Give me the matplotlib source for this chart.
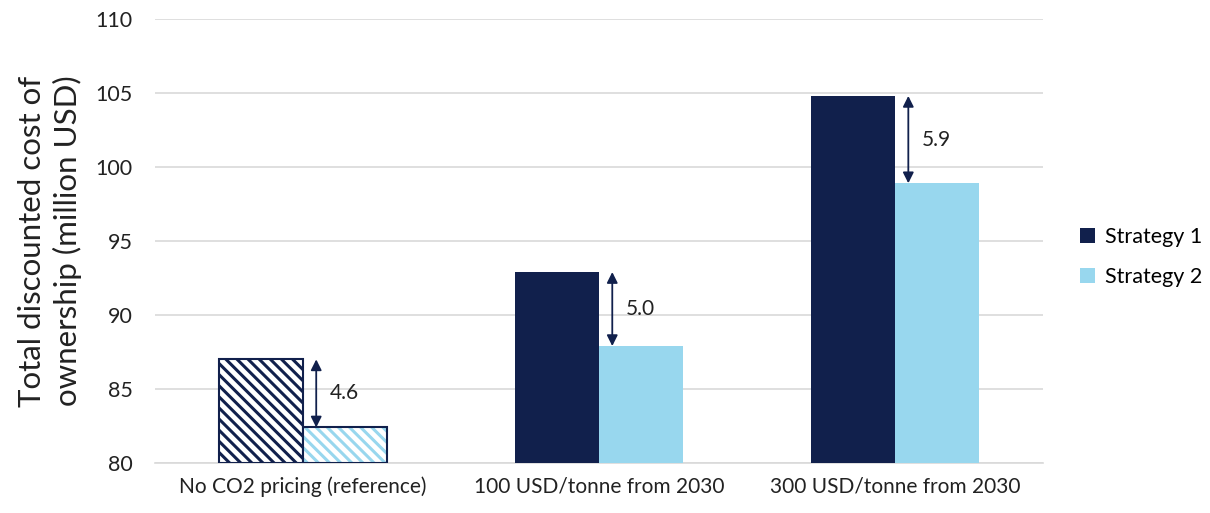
import matplotlib
matplotlib.use("Agg")
import matplotlib.pyplot as plt
import numpy as np

categories = ["No CO2 pricing (reference)", "100 USD/tonne from 2030", "300 USD/tonne from 2030"]
strategy1 = [87.0, 92.9, 104.8]
strategy2 = [82.4, 87.9, 98.9]
gap_labels = ["4.6", "5.0", "5.9"]
hatched = [True, False, False]

navy = "#11204C"
light = "#98D7EE"

plt.rcParams['font.family'] = ['Lato', 'DejaVu Sans']
plt.rcParams['hatch.linewidth'] = 2.2

fig = plt.figure(figsize=(12.1, 5.13), dpi=100)
ax = fig.add_axes([0.128, 0.0975, 0.734, 0.8655])

x = np.arange(len(categories))
w = 0.285

for i in range(len(categories)):
    if hatched[i]:
        ax.bar(x[i] - w / 2, strategy1[i] - 80, w, bottom=80, facecolor="white",
               edgecolor=navy, hatch="\\\\\\", linewidth=1.5, zorder=3)
        ax.bar(x[i] + w / 2, strategy2[i] - 80, w, bottom=80, facecolor="white",
               edgecolor=light, hatch="\\\\\\", linewidth=0, zorder=3)
        ax.bar(x[i] + w / 2, strategy2[i] - 80, w, bottom=80, facecolor="none",
               edgecolor=navy, linewidth=1.5, zorder=4)
    else:
        ax.bar(x[i] - w / 2, strategy1[i] - 80, w, bottom=80, color=navy, zorder=3,
               label="Strategy 1" if i == 1 else None)
        ax.bar(x[i] + w / 2, strategy2[i] - 80, w, bottom=80, color=light, zorder=3,
               label="Strategy 2" if i == 1 else None)

    ax_x = x[i] + 0.045
    ax.annotate("", xy=(ax_x, strategy2[i]), xytext=(ax_x, strategy1[i]),
                arrowprops=dict(arrowstyle="<|-|>", color=navy, lw=1.3,
                                mutation_scale=16, shrinkA=0, shrinkB=0), zorder=5)
    ax.text(ax_x + 0.045, (strategy1[i] + strategy2[i]) / 2, gap_labels[i],
            fontsize=15, color="#222222", va="center", ha="left")

ax.set_xlim(-0.5, 2.5)
ax.set_ylim(80, 110)
ax.set_yticks(np.arange(80, 111, 5))
ax.set_xticks(x)
ax.set_xticklabels(categories, fontsize=15, color="#222222")
ax.tick_params(axis="y", labelsize=15.5, colors="#222222", length=0, pad=16)
ax.tick_params(axis="x", length=0, pad=10)
ax.grid(axis="y", color="#D9D9D9", linewidth=1.2, zorder=0)
ax.set_axisbelow(True)
for s in ["top", "right", "left"]:
    ax.spines[s].set_visible(False)
ax.spines["bottom"].set_color("#D9D9D9")
ax.spines["bottom"].set_linewidth(1.2)

ax.set_ylabel("Total discounted cost of\nownership (million USD)", fontsize=22.5,
              color="#222222", labelpad=10, linespacing=1.25)

leg = ax.legend(loc="center left", bbox_to_anchor=(1.032, 0.464), frameon=False,
                borderaxespad=0, fontsize=15.5, handlelength=0.7, handleheight=0.7,
                labelspacing=0.95, handletextpad=0.45)

fig.savefig("out.png", dpi=100)
